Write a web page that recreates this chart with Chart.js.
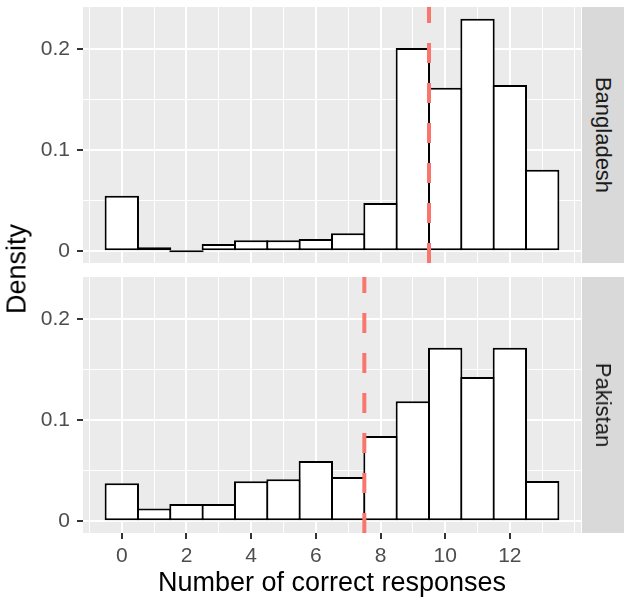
<!DOCTYPE html>
<html><head><meta charset="utf-8">
<script src="https://cdn.jsdelivr.net/npm/chart.js@4"></script>
<style>
html,body{margin:0;padding:0;background:#fff}
body{width:630px;height:606px;position:relative;overflow:hidden;font-family:"Liberation Sans",Arial,sans-serif}
canvas{position:absolute;left:0}
#c1{top:0}
#c2{top:270px}
.strip{position:absolute;left:582px;width:42px;height:256px;background:#D9D9D9}
.strip span{position:absolute;left:50%;top:50%;transform:translate(-50%,-50%) rotate(90deg);font-size:22px;line-height:1;color:#1A1A1A;white-space:nowrap}
#ylab{position:absolute;left:16.5px;top:269px;transform:translate(-50%,-50%) rotate(-90deg);font-size:27px;line-height:1;color:#000;white-space:nowrap}
</style></head>
<body>
<canvas id="c1" width="630" height="263"></canvas>
<canvas id="c2" width="630" height="336"></canvas>
<div class="strip" style="top:7px"><span id="s1"></span></div>
<div class="strip" style="top:277px"><span id="s2"></span></div>
<div id="ylab">Density</div>
<script>
// ---- data ----
const bins = [0,1,2,3,4,5,6,7,8,9,10,11,12,13];
const bangladesh = [0.055,0.004,0,0.0073,0.0109,0.0109,0.0122,0.018,0.0478,0.2014,0.162,0.2304,0.1646,0.0807];
const pakistan   = [0.0378,0.0128,0.0171,0.0171,0.0398,0.0418,0.0598,0.044,0.0845,0.119,0.1718,0.143,0.1718,0.040];
const panels = ["Bangladesh","Pakistan"];
const thresholds = [9.5, 7.5];
const xTickLabels = [0,2,4,6,8,10,12];
const yTickLabels = [0,0.1,0.2];
const xTitle = "Number of correct responses";

document.getElementById('s1').textContent = panels[0];
document.getElementById('s2').textContent = panels[1];

const FONT = '"Liberation Sans", Arial, sans-serif';
const yMaxData = Math.max(...bangladesh, ...pakistan);
const yMin = -0.05*yMaxData, yMax = 1.05*yMaxData;
const xLo = bins[0]-0.5, xHi = bins[bins.length-1]+0.5;
const xMin = xLo-0.05*(xHi-xLo), xMax = xHi+0.05*(xHi-xLo);
const near = (a,b)=>Math.abs(a-b)<1e-9;
const isXMajor = v => xTickLabels.some(t=>near(t,v));
const isYMajor = v => yTickLabels.some(t=>near(t,v));

const panelBg = {
  id:'panelBg',
  beforeDraw(chart){
    const {ctx, chartArea:a} = chart;
    ctx.save(); ctx.fillStyle='#EBEBEB';
    ctx.fillRect(a.left,a.top,a.right-a.left,a.bottom-a.top);
    ctx.restore();
  }
};
const vline = {
  id:'vline',
  afterDatasetsDraw(chart, args, opts){
    const {ctx, chartArea:a} = chart;
    const x = chart.scales.x.getPixelForValue(opts.value);
    ctx.save();
    ctx.beginPath(); ctx.rect(a.left,a.top,a.right-a.left,a.bottom-a.top); ctx.clip();
    ctx.strokeStyle='#F8766D'; ctx.lineWidth=4; ctx.setLineDash([20,20]); ctx.lineCap='butt';
    ctx.beginPath(); ctx.moveTo(x,a.bottom); ctx.lineTo(x,a.top); ctx.stroke();
    ctx.restore();
  }
};

function makeChart(id, vals, thr, showX){
  return new Chart(document.getElementById(id), {
    type:'bar',
    data:{datasets:[{
      data: bins.map((b,i)=>({x:b,y:vals[i]})),
      backgroundColor:'#FFFFFF',
      borderColor:'#000000',
      borderWidth:2,
      borderSkipped:false,
      barPercentage:1.062,
      categoryPercentage:1,
      minBarLength:2
    }]},
    options:{
      responsive:false, animation:false, events:[],
      layout:{padding:{left:0,right:49,top:7,bottom:0}},
      plugins:{legend:{display:false},tooltip:{enabled:false},vline:{value:thr}},
      scales:{
        x:{
          type:'linear', min:xMin, max:xMax, offset:false,
          afterBuildTicks(s){ const t=[]; for(let v=Math.ceil(xMin); v<=Math.floor(xMax); v++){ t.push({value:v}); } s.ticks=t; },
          afterFit(s){ s.height = showX ? 73 : 0; s.paddingLeft=0; s.paddingRight=0; s.paddingTop=0; s.paddingBottom=0; },
          border:{display:false},
          grid:{
            offset:false,
            color:'#FFFFFF',
            lineWidth:c=> (c.tick && isXMajor(c.tick.value)) ? 2 : 1,
            drawTicks:showX,
            tickLength:6,
            tickWidth:2,
            tickColor:c=> (c.tick && isXMajor(c.tick.value)) ? '#333333' : 'rgba(0,0,0,0)'
          },
          ticks:{
            display:showX, autoSkip:false, maxRotation:0, padding:5,
            color:'#4D4D4D', font:{family:FONT,size:21},
            callback:v=> isXMajor(v) ? String(v) : ''
          },
          title:{display:showX, text:xTitle, color:'#000000', font:{family:FONT,size:27}, padding:{top:0,bottom:6}}
        },
        y:{
          min:yMin, max:yMax,
          afterBuildTicks(s){ s.ticks=[0,0.05,0.1,0.15,0.2].filter(v=>v<=yMax).map(v=>({value:v})); },
          afterFit(s){ s.width = 83; s.paddingTop=0; s.paddingBottom=0; s.paddingLeft=0; s.paddingRight=0; },
          border:{display:false},
          grid:{
            offset:false,
            color:'#FFFFFF',
            lineWidth:c=> (c.tick && isYMajor(c.tick.value)) ? 2 : 1,
            drawTicks:true, tickLength:6, tickWidth:2,
            tickColor:c=> (c.tick && isYMajor(c.tick.value)) ? '#333333' : 'rgba(0,0,0,0)'
          },
          ticks:{
            padding:7, color:'#4D4D4D', font:{family:FONT,size:21},
            callback:v=> isYMajor(v) ? String(Math.round(v*10)/10) : ''
          }
        }
      }
    },
    plugins:[panelBg, vline]
  });
}
makeChart('c1', bangladesh, thresholds[0], false);
makeChart('c2', pakistan, thresholds[1], true);
</script>
</body></html>
